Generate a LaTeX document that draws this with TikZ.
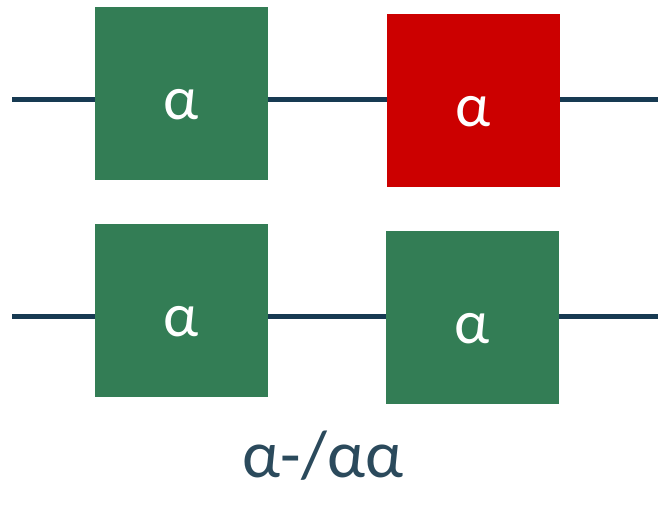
\documentclass[tikz,border=0pt]{standalone}
\usepackage{fontspec}
\setmainfont{Carlito}
\definecolor{gbox}{HTML}{337D55}
\definecolor{rbox}{HTML}{CC0000}
\definecolor{wire}{HTML}{173A52}
\definecolor{lbl}{HTML}{2B4A5C}
\begin{document}
\begin{tikzpicture}[x=1pt,y=1pt,
  gate/.style={draw=none,minimum width=173pt,minimum height=173pt,inner sep=0pt,
    text height=51pt,text depth=0pt,
    text=white,font=\fontsize{62}{62}\selectfont},
  wireline/.style={draw=wire,line width=5pt}]
\useasboundingbox (0,0) rectangle (658,505);
\coordinate (t0) at (12,405);
\coordinate (t1) at (658,405);
\coordinate (b0) at (12,188);
\coordinate (b1) at (658,188);
\draw[wireline] (t0) -- (t1);
\draw[wireline] (b0) -- (b1);
\node[gate,fill=gbox] (tl) at (181.5,411) {α};
\node[gate,fill=rbox] (tr) at (473,404) {α};
\node[gate,fill=gbox] (bl) at (181,194) {α};
\node[gate,fill=gbox] (br) at (472.5,187) {α};
\node[anchor=base,text=lbl,font=\fontsize{67}{67}\selectfont,inner sep=0pt] (cap) at (323,27) {α-/αα};
\end{tikzpicture}
\end{document}
